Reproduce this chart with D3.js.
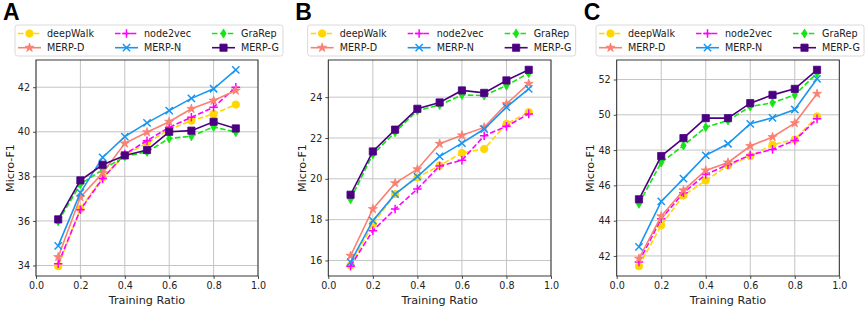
<!DOCTYPE html>
<html>
<head>
<meta charset="utf-8">
<script src="https://cdn.jsdelivr.net/npm/d3@7"></script>
<style>
  body { margin: 0; background: #fff; }
  svg { display: block; }
</style>
</head>
<body>
<div id="chart"></div>
<script>
let w = 865;
let h = 310;

// data
const ratios = [0.1, 0.2, 0.3, 0.4, 0.5, 0.6, 0.7, 0.8, 0.9];
const xTickValues = [0, 0.2, 0.4, 0.6, 0.8, 1.0];
const xTickLabels = ["0.0", "0.2", "0.4", "0.6", "0.8", "1.0"];
const panelLetters = ["A", "B", "C"];
const methodNames = ["deepWalk", "MERP-D", "node2vec", "MERP-N", "GraRep", "MERP-G"];

const yTicksA = [34, 36, 38, 40, 42];
const yTicksB = [16, 18, 20, 22, 24];
const yTicksC = [42, 44, 46, 48, 50, 52];

const deepWalkA = [33.97, 36.55, 37.95, 38.95, 39.5, 40.1, 40.5, 40.8, 41.22];
const node2vecA = [34.08, 36.5, 37.9, 39.0, 39.6, 40.2, 40.65, 41.1, 42.0];
const grarepA   = [35.98, 37.65, 38.3, 38.9, 39.1, 39.7, 39.8, 40.22, 39.98];
const merpDA    = [34.38, 37.07, 38.15, 39.48, 39.98, 40.45, 41.03, 41.4, 41.85];
const merpNA    = [34.88, 37.27, 38.85, 39.78, 40.4, 40.95, 41.5, 41.93, 42.78];
const merpGA    = [36.07, 37.82, 38.52, 38.94, 39.18, 40.0, 40.05, 40.45, 40.15];

const deepWalkB = [15.76, 17.79, 19.25, 20.07, 20.65, 21.27, 21.46, 22.69, 23.26];
const node2vecB = [15.72, 17.46, 18.52, 19.5, 20.63, 20.91, 22.11, 22.57, 23.18];
const grarepB   = [19.0, 21.2, 22.28, 23.34, 23.62, 24.11, 24.08, 24.57, 25.18];
const merpDB    = [16.23, 18.52, 19.79, 20.47, 21.72, 22.13, 22.52, 23.67, 24.66];
const merpNB    = [15.92, 17.95, 19.25, 20.11, 21.1, 21.75, 22.44, 23.51, 24.41];
const merpGB    = [19.22, 21.34, 22.41, 23.43, 23.74, 24.33, 24.21, 24.82, 25.34];

const deepWalkC = [41.42, 43.74, 45.43, 46.28, 47.13, 47.66, 48.3, 48.6, 49.91];
const node2vecC = [41.66, 44.11, 45.58, 46.62, 47.17, 47.72, 48.04, 48.55, 49.77];
const grarepC   = [44.96, 47.3, 48.26, 49.3, 49.68, 50.47, 50.68, 51.13, 52.36];
const merpDC    = [41.85, 44.25, 45.72, 46.85, 47.3, 48.23, 48.74, 49.53, 51.19];
const merpNC    = [42.51, 45.09, 46.38, 47.7, 48.36, 49.49, 49.83, 50.3, 52.04];
const merpGC    = [45.21, 47.66, 48.68, 49.81, 49.81, 50.66, 51.13, 51.47, 52.55];

// look of each method
let styles = {
  "deepWalk": {color: "#ffd700", dash: "5.5,2.4", symbol: d3.symbolCircle, size: 44, filled: true},
  "node2vec": {color: "#ff00ff", dash: "5.5,2.4", symbol: d3.symbolPlus, size: 26, filled: false},
  "GraRep":   {color: "#11e611", dash: "5.5,2.4", symbol: d3.symbolDiamond, size: 24, filled: true},
  "MERP-D":   {color: "#fa8072", dash: null, symbol: d3.symbolStar, size: 25, filled: true},
  "MERP-N":   {color: "#1a96f0", dash: null, symbol: d3.symbolTimes, size: 36, filled: false},
  "MERP-G":   {color: "#4b0082", dash: null, symbol: d3.symbolSquare, size: 52, filled: true}
};

// drawing order (later on top)
let drawOrder = ["deepWalk", "node2vec", "GraRep", "MERP-D", "MERP-N", "MERP-G"];

let panels = [
  {letter: panelLetters[0], left: 36, right: 258, ticks: yTicksA,
   series: {"deepWalk": deepWalkA, "node2vec": node2vecA, "GraRep": grarepA, "MERP-D": merpDA, "MERP-N": merpNA, "MERP-G": merpGA}},
  {letter: panelLetters[1], left: 328.3, right: 551, ticks: yTicksB,
   series: {"deepWalk": deepWalkB, "node2vec": node2vecB, "GraRep": grarepB, "MERP-D": merpDB, "MERP-N": merpNB, "MERP-G": merpGB}},
  {letter: panelLetters[2], left: 616.7, right: 839.3, ticks: yTicksC,
   series: {"deepWalk": deepWalkC, "node2vec": node2vecC, "GraRep": grarepC, "MERP-D": merpDC, "MERP-N": merpNC, "MERP-G": merpGC}}
];

let plotTop = 60;
let plotBottom = 276;
let font = "'DejaVu Sans', sans-serif";

let svg = d3.select("#chart").append("svg")
  .attr("width", w)
  .attr("height", h)
  .style("font-family", font);

function drawMarker(g, name, x, y) {
  let st = styles[name];
  let p = d3.symbol().type(st.symbol).size(st.size)();
  g.append("path")
    .attr("d", p)
    .attr("transform", "translate(" + x + "," + y + ")")
    .attr("fill", st.filled ? st.color : "none")
    .attr("stroke", st.color)
    .attr("stroke-width", st.filled ? 0.8 : 1.5);
}

panels.forEach(function(panel) {
  let g = svg.append("g");

  // y range with matplotlib style 5% margins
  let allVals = [];
  methodNames.forEach(function(m) { allVals = allVals.concat(panel.series[m]); });
  let ext = d3.extent(allVals);
  let pad = (ext[1] - ext[0]) * 0.05;

  let xScale = d3.scaleLinear().domain([0, 1]).range([panel.left, panel.right]);
  let yScale = d3.scaleLinear().domain([ext[0] - pad, ext[1] + pad]).range([plotBottom, plotTop]);

  // grid
  g.selectAll(".vgrid").data(xTickValues).enter()
    .append("line")
    .attr("x1", d => xScale(d)).attr("x2", d => xScale(d))
    .attr("y1", plotTop).attr("y2", plotBottom)
    .attr("stroke", "#c4c4c4").attr("stroke-width", 1);
  g.selectAll(".hgrid").data(panel.ticks).enter()
    .append("line")
    .attr("x1", panel.left).attr("x2", panel.right)
    .attr("y1", d => yScale(d)).attr("y2", d => yScale(d))
    .attr("stroke", "#c4c4c4").attr("stroke-width", 1);

  // axes
  let xAxis = d3.axisBottom(xScale).tickValues(xTickValues)
    .tickFormat((d, i) => xTickLabels[i]).tickSize(3).tickPadding(3);
  let xAxisGroup = g.append("g").attr("transform", "translate(0," + plotBottom + ")").call(xAxis);
  let yAxis = d3.axisLeft(yScale).tickValues(panel.ticks).tickSize(3).tickPadding(3);
  let yAxisGroup = g.append("g").attr("transform", "translate(" + panel.left + ",0)").call(yAxis);

  [xAxisGroup, yAxisGroup].forEach(function(ax) {
    ax.select(".domain").remove();
    ax.selectAll("line").attr("stroke", "#222").attr("stroke-width", 0.8);
    ax.selectAll("text").attr("fill", "#222").style("font-size", "9.6px").style("font-family", font);
  });

  // frame
  g.append("rect")
    .attr("x", panel.left).attr("y", plotTop)
    .attr("width", panel.right - panel.left).attr("height", plotBottom - plotTop)
    .attr("fill", "none").attr("stroke", "#222").attr("stroke-width", 0.9);

  // lines + markers
  let lineMaker = d3.line().x((d, i) => xScale(ratios[i])).y(d => yScale(d));
  drawOrder.forEach(function(name) {
    let st = styles[name];
    let vals = panel.series[name];
    g.append("path")
      .attr("d", lineMaker(vals))
      .attr("fill", "none")
      .attr("stroke", st.color)
      .attr("stroke-width", 1.6)
      .attr("stroke-dasharray", st.dash);
    vals.forEach(function(v, i) {
      drawMarker(g, name, xScale(ratios[i]), yScale(v));
    });
  });

  // axis labels
  g.append("text")
    .text("Training Ratio")
    .attr("x", (panel.left + panel.right) / 2)
    .attr("y", 304)
    .attr("text-anchor", "middle")
    .attr("fill", "#222")
    .style("font-size", "11.2px");
  g.append("text")
    .text("Micro-F1")
    .attr("transform", "translate(" + (panel.left - 22.5) + "," + ((plotTop + plotBottom) / 2) + ") rotate(-90)")
    .attr("text-anchor", "middle")
    .attr("fill", "#222")
    .style("font-size", "11.2px");

  // legend
  let legW = 268;
  let legL = (panel.left + panel.right) / 2 - legW / 2 + 2;
  let leg = g.append("g");
  leg.append("rect")
    .attr("x", legL).attr("y", 25)
    .attr("width", legW).attr("height", 31)
    .attr("rx", 2.5)
    .attr("fill", "white").attr("fill-opacity", 0.8)
    .attr("stroke", "#d0d0d0").attr("stroke-width", 0.8);
  methodNames.forEach(function(name, i) {
    let col = Math.floor(i / 2);
    let row = i % 2;
    let st = styles[name];
    let x0 = legL + 3 + col * 97;
    let y0 = 33.5 + row * 14.2;
    leg.append("line")
      .attr("x1", x0).attr("x2", x0 + 23)
      .attr("y1", y0).attr("y2", y0)
      .attr("stroke", st.color)
      .attr("stroke-width", 1.6)
      .attr("stroke-dasharray", st.dash);
    drawMarker(leg, name, x0 + 11.5, y0);
    leg.append("text")
      .text(name)
      .attr("x", x0 + 29)
      .attr("y", y0 + 3.4)
      .attr("fill", "#222")
      .style("font-size", "9.6px");
  });

  // panel letter
  svg.append("text")
    .text(panel.letter)
    .attr("x", panel.left - 33)
    .attr("y", 20)
    .attr("fill", "black")
    .style("font-family", "'Liberation Sans', Arial, sans-serif")
    .style("font-weight", "bold")
    .style("font-size", "23px");
});
</script>
</body>
</html>
